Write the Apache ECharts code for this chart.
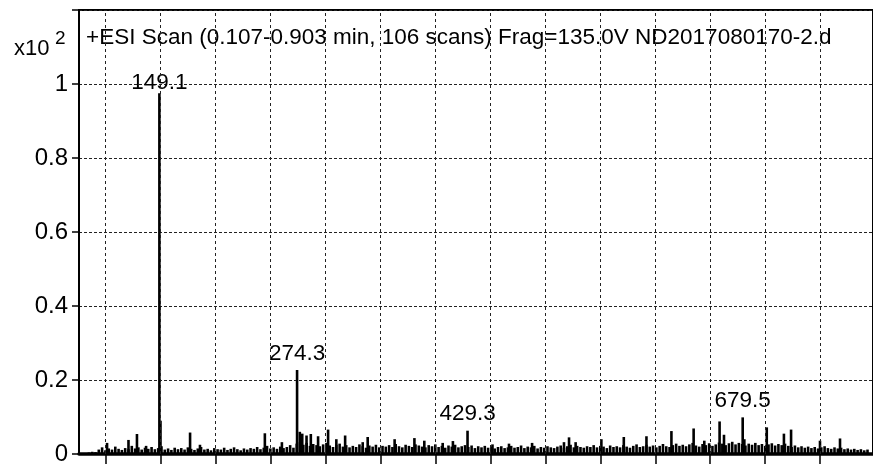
<!DOCTYPE html>
<html>
<head>
<meta charset="utf-8">
<script src="https://cdn.jsdelivr.net/npm/echarts@6/dist/echarts.min.js"></script>
<style>
  html, body { margin: 0; padding: 0; background: #fff; }
  #chart { width: 873px; height: 466px; }
</style>
</head>
<body>
<div id="chart"></div>
<script>
// 质谱图 (ESI scan)，y 轴单位 x10^2

const titleText = "+ESI Scan (0.107-0.903 min, 106 scans) Frag=135.0V ND2017080170-2.d";
const yTicks = [0, 0.2, 0.4, 0.6, 0.8, 1];
// x 方向的刻度/网格线 (m/z)
const xTicks = [100, 150, 200, 250, 300, 350, 400, 450, 500, 550, 600, 650, 700, 750];

// 标注的峰
const labelMz = [149.1, 274.3, 429.3, 679.5];
const labelInt = [0.975, 0.227, 0.063, 0.099];

// 其他较明显的小峰 (m/z, 强度)
const peakMz = [101.5, 121, 128.7, 137, 150.1, 177, 186, 245, 260.5, 276.8, 279, 282.9, 286.8, 293.4,
  302.5, 310, 318, 334, 338.5, 363, 381, 390, 406.7, 416, 452, 467, 488, 517, 521.6, 527.6, 551,
  571.4, 592, 614.7, 634.9, 644.6, 658.5, 662.5, 681, 701.4, 717, 723.5, 749.8, 768];
const peakInt = [0.03, 0.038, 0.054, 0.022, 0.09, 0.058, 0.025, 0.056, 0.032, 0.06, 0.055, 0.05, 0.054, 0.048,
  0.066, 0.04, 0.05, 0.032, 0.046, 0.04, 0.043, 0.036, 0.03, 0.035, 0.026, 0.028, 0.03, 0.032, 0.045, 0.032, 0.04,
  0.046, 0.048, 0.062, 0.069, 0.036, 0.088, 0.052, 0.04, 0.072, 0.055, 0.066, 0.036, 0.042];

// 基线噪声，从 m/z 85 开始每 3 个单位读一次
const noiseStart = 85;
const noiseStep = 3;
const noiseInt = [
  0.004, 0.006, 0.005, 0.012, 0.018, 0.010, 0.015, 0.012, 0.020, 0.014,
  0.011, 0.016, 0.013, 0.022, 0.015, 0.018, 0.012, 0.017, 0.014, 0.019,
  0.013, 0.016, 0.021, 0.012, 0.015, 0.011, 0.017, 0.013, 0.016, 0.012,
  0.018, 0.014, 0.011, 0.015, 0.019, 0.012, 0.014, 0.010, 0.016, 0.013,
  0.012, 0.017, 0.011, 0.014, 0.018, 0.013, 0.010, 0.015, 0.012, 0.016,
  0.014, 0.019, 0.013, 0.017, 0.022, 0.015, 0.018, 0.014, 0.020, 0.016,
  0.019, 0.024, 0.017, 0.028, 0.032, 0.025, 0.030, 0.022, 0.027, 0.024,
  0.021, 0.026, 0.030, 0.023, 0.019, 0.025, 0.028, 0.020, 0.024, 0.018,
  0.022, 0.019, 0.026, 0.021, 0.017, 0.023, 0.020, 0.025, 0.018, 0.022,
  0.020, 0.024, 0.019, 0.027, 0.021, 0.018, 0.025, 0.022, 0.019, 0.026,
  0.023, 0.020, 0.018, 0.024, 0.021, 0.026, 0.019, 0.022, 0.017, 0.023,
  0.020, 0.025, 0.018, 0.021, 0.024, 0.019, 0.023, 0.016, 0.021, 0.018,
  0.022, 0.017, 0.020, 0.015, 0.019, 0.021, 0.016, 0.018, 0.022, 0.017,
  0.019, 0.023, 0.016, 0.020, 0.018, 0.022, 0.015, 0.019, 0.017, 0.021,
  0.018, 0.016, 0.020, 0.023, 0.017, 0.021, 0.025, 0.018, 0.022, 0.019,
  0.017, 0.021, 0.019, 0.024, 0.018, 0.022, 0.020, 0.016, 0.023, 0.019,
  0.021, 0.018, 0.024, 0.020, 0.017, 0.022, 0.026, 0.019, 0.021, 0.025,
  0.020, 0.023, 0.018, 0.022, 0.027, 0.021, 0.019, 0.024, 0.028, 0.022,
  0.025, 0.021, 0.026, 0.030, 0.023, 0.020, 0.027, 0.024, 0.029, 0.022,
  0.026, 0.031, 0.028, 0.024, 0.029, 0.033, 0.026, 0.030, 0.027, 0.023,
  0.028, 0.025, 0.030, 0.024, 0.027, 0.022, 0.026, 0.029, 0.023, 0.027,
  0.024, 0.028, 0.022, 0.019, 0.023, 0.018, 0.021, 0.017, 0.020, 0.016,
  0.019, 0.015, 0.018, 0.021, 0.016, 0.014, 0.018, 0.015, 0.017, 0.013,
  0.015, 0.012, 0.014, 0.011, 0.013, 0.010, 0.012
];

const FONT = '"Liberation Sans", Arial, sans-serif';

// 组装成 bar 系列需要的数据
const seriesData = [];
noiseInt.forEach((v, i) => seriesData.push([noiseStart + i * noiseStep, v]));
peakMz.forEach((m, i) => seriesData.push([m, peakInt[i]]));
labelMz.forEach((m, i) => {
  seriesData.push({
    value: [m, labelInt[i]],
    label: {
      show: true,
      position: "top",
      distance: i === 0 ? -1 : 5,
      formatter: String(m),
      fontFamily: FONT,
      fontSize: 22.5,
      color: "#000",
    },
  });
});

const chart = echarts.init(document.getElementById("chart"), null, { renderer: "canvas" });

const option = {
  backgroundColor: "#fff",
  animation: false,
  grid: {
    left: 79,
    right: -2,
    top: 10,
    bottom: 10,
    show: true,
    borderColor: "#000",
    borderWidth: 2,
  },
  graphic: [
    {
      type: "text",
      left: 86,
      top: 26,
      style: { text: titleText, font: "22.5px " + FONT, fill: "#000" },
    },
    {
      type: "text",
      left: 14,
      top: 38,
      style: { text: "x10", font: "22px " + FONT, fill: "#000" },
    },
    {
      type: "text",
      left: 55,
      top: 29,
      style: { text: "2", font: "19px " + FONT, fill: "#000" },
    },
  ],
  xAxis: {
    type: "value",
    min: 76,
    max: 798,
    axisLine: { show: true, onZero: false, lineStyle: { color: "#000", width: 3.5 } },
    axisTick: {
      show: true,
      customValues: xTicks,
      length: 10,
      lineStyle: { color: "#000", width: 1.5 },
    },
    axisLabel: { show: false },
    splitLine: { show: false },
  },
  yAxis: {
    type: "value",
    min: 0,
    max: 1.2,
    interval: 0.2,
    axisLine: { show: true, lineStyle: { color: "#000", width: 2 } },
    axisTick: { show: true, length: 7, lineStyle: { color: "#000", width: 1.5 } },
    axisLabel: {
      margin: 11,
      color: "#000",
      fontFamily: FONT,
      fontSize: 24,
      formatter: (v) => (yTicks.some((t) => Math.abs(t - v) < 1e-6) ? String(+v.toFixed(1)) : ""),
    },
    splitLine: {
      show: true,
      lineStyle: { color: "#222", width: 1, type: [3, 2] },
    },
  },
  series: [
    {
      type: "bar",
      barWidth: 2.6,
      itemStyle: { color: "#000" },
      data: seriesData,
      // 竖直网格线
      markLine: {
        silent: true,
        symbol: "none",
        label: { show: false },
        lineStyle: { color: "#222", width: 1, type: [3, 3] },
        data: xTicks.map((v) => ({ xAxis: v })),
      },
    },
  ],
};

chart.setOption(option);
</script>
</body>
</html>
